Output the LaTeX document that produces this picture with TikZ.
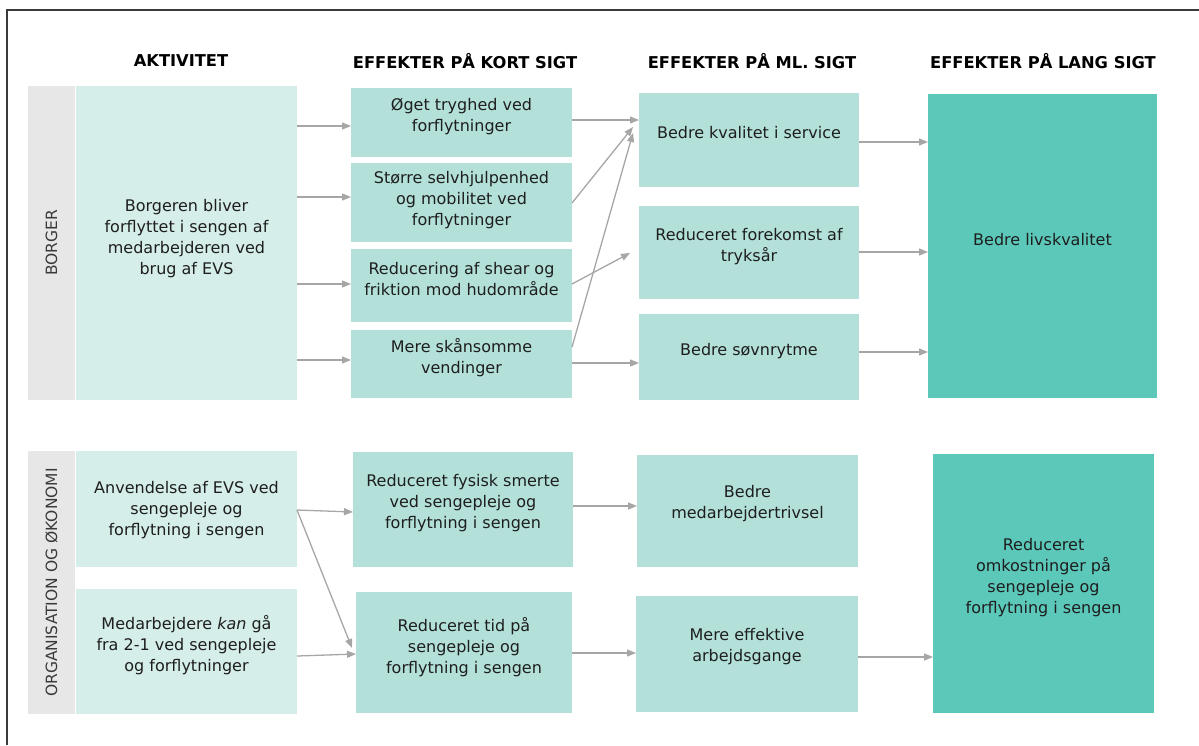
\documentclass[tikz,border=0pt]{standalone}
\usepackage{fontspec}
\setmainfont{DejaVu Sans}
\usetikzlibrary{arrows.meta,calc}
\definecolor{cLight}{HTML}{D5EEE9}
\definecolor{cMid}{HTML}{B3E1DA}
\definecolor{cDark}{HTML}{5CC8BA}
\definecolor{cStrip}{HTML}{E7E7E7}
\definecolor{cArrow}{HTML}{A6A6A6}
\definecolor{cText}{HTML}{1E1E1E}
\definecolor{cFrame}{HTML}{3A3A3A}
\begin{document}
\begin{tikzpicture}[x=1pt,y=-1pt,
 bx/.style={inner sep=0pt, outer sep=0pt, draw=none},
 light/.style={bx, fill=cLight},
 mid/.style={bx, fill=cMid},
 dark/.style={bx, fill=cDark},
 strip/.style={bx, fill=cStrip},
 txt/.style={align=center, text=cText, font=\fontsize{16}{21}\selectfont, inner sep=0pt},
 hdr/.style={font=\fontsize{16.3}{20}\selectfont\bfseries, text=black, inner sep=0pt},
 side/.style={rotate=90, font=\fontsize{15.5}{19}\selectfont, text=cFrame, inner sep=0pt},
 arr/.style={draw=cArrow, line width=1.3pt, -{Triangle[length=9pt,width=7pt]}},
]
\useasboundingbox (0,0) rectangle (1199,745);
% frame
\draw[cFrame, line width=1.3pt] (7,745) -- (7,10) -- (1199,10);

% headers
\node[hdr] (h1) at (181,61) {AKTIVITET};
\node[hdr] (h2) at (465,61) {EFFEKTER PÅ KORT SIGT};
\node[hdr] (h3) at (752,61) {EFFEKTER PÅ ML. SIGT};
\node[hdr] (h4) at (1043,61) {EFFEKTER PÅ LANG SIGT};

% ---------- BORGER ----------
\node[strip, minimum width=47pt, minimum height=314pt] (bstrip) at (51.5,243) {};
\node[side] (bstrip-t) at (bstrip.center) {BORGER};
\node[light, minimum width=221pt, minimum height=314pt] (akt) at (186.5,243) {};
\node[txt] (akt-t) at ($(akt.center)+(0,-4.5)$) {Borgeren bliver\\forflyttet i sengen af\\medarbejderen ved\\brug af EVS};

\node[mid, minimum width=221pt, minimum height=69pt] (s1) at (461.5,122.5) {};
\node[txt] (s1-t) at ($(s1.center)+(0,-6)$) {Øget tryghed ved\\forflytninger};
\node[mid, minimum width=221pt, minimum height=79pt] (s2) at (461.5,202.5) {};
\node[txt] (s2-t) at ($(s2.center)+(0,-2)$) {Større selvhjulpenhed\\og mobilitet ved\\forflytninger};
\node[mid, minimum width=221pt, minimum height=73pt] (s3) at (461.5,285.5) {};
\node[txt] (s3-t) at ($(s3.center)+(0,-6.5)$) {Reducering af shear og\\friktion mod hudområde};
\node[mid, minimum width=221pt, minimum height=68pt] (s4) at (461.5,364) {};
\node[txt] (s4-t) at ($(s4.center)+(0,-6)$) {Mere skånsomme\\vendinger};

\node[mid, minimum width=220pt, minimum height=94pt] (m1) at (749,140) {};
\node[txt] (m1-t) at ($(m1.center)+(0,-7)$) {Bedre kvalitet i service};
\node[mid, minimum width=220pt, minimum height=93pt] (m2) at (749,252.5) {};
\node[txt] (m2-t) at ($(m2.center)+(0,-6)$) {Reduceret forekomst af\\tryksår};
\node[mid, minimum width=220pt, minimum height=86pt] (m3) at (749,357) {};
\node[txt] (m3-t) at ($(m3.center)+(0,-6)$) {Bedre søvnrytme};

\node[dark, minimum width=229pt, minimum height=304pt] (L1) at (1042.5,246) {};
\node[txt] (L1-t) at ($(L1.center)+(0,-6)$) {Bedre livskvalitet};

% arrows BORGER
\draw[arr] (akt.east |- 0,126) -- (s1.west |- 0,126);
\draw[arr] (akt.east |- 0,197) -- (s2.west |- 0,197);
\draw[arr] (akt.east |- 0,284) -- (s3.west |- 0,284);
\draw[arr] (akt.east |- 0,360) -- (s4.west |- 0,360);
\draw[arr] (s1.east |- 0,120) -- (m1.west |- 0,120);
\draw[arr] (s2.east |- 0,203) -- ($(m1.west |- 0,127)+(-6,0)$);
\draw[arr] (s3.east |- 0,284) -- ($(m2.west |- 0,253)+(-9,0)$);
\draw[arr] (s4.east |- 0,347) -- ($(m1.west |- 0,133)+(-6,0)$);
\draw[arr] (s4.east |- 0,363) -- (m3.west |- 0,363);
\draw[arr] (m1.east |- 0,142) -- (L1.west |- 0,142);
\draw[arr] (m2.east |- 0,252) -- (L1.west |- 0,252);
\draw[arr] (m3.east |- 0,352) -- (L1.west |- 0,352);

% ---------- ORGANISATION ----------
\node[strip, minimum width=47pt, minimum height=263pt] (ostrip) at (51.5,582.5) {};
\node[side] (ostrip-t) at (ostrip.center) {ORGANISATION OG ØKONOMI};
\node[light, minimum width=221pt, minimum height=116pt] (a1) at (186.5,509) {};
\node[txt] (a1-t) at ($(a1.center)+(0,1)$) {Anvendelse af EVS ved\\sengepleje og\\forflytning i sengen};
\node[light, minimum width=221pt, minimum height=125pt] (a2) at (186.5,651.5) {};
\node[txt] (a2-t) at ($(a2.center)+(0,-6.5)$) {Medarbejdere \textit{kan} gå\\fra 2-1 ved sengepleje\\og forflytninger};

\node[mid, minimum width=220pt, minimum height=115pt] (t1) at (463,509.5) {};
\node[txt] (t1-t) at ($(t1.center)+(0,-6.5)$) {Reduceret fysisk smerte\\ved sengepleje og\\forflytning i sengen};
\node[mid, minimum width=216pt, minimum height=121pt] (t2) at (464,652.5) {};
\node[txt] (t2-t) at ($(t2.center)+(0,-5.5)$) {Reduceret tid på\\sengepleje og\\forflytning i sengen};

\node[mid, minimum width=221pt, minimum height=112pt] (n1) at (747.5,511) {};
\node[txt] (n1-t) at ($(n1.center)+(0,-7)$) {Bedre\\medarbejdertrivsel};
\node[mid, minimum width=222pt, minimum height=116pt] (n2) at (747,654) {};
\node[txt] (n2-t) at ($(n2.center)+(0,-7)$) {Mere effektive\\arbejdsgange};

\node[dark, minimum width=221pt, minimum height=259pt] (L2) at (1043.5,583.5) {};
\node[txt] (L2-t) at ($(L2.center)+(0,-5.5)$) {Reduceret\\omkostninger på\\sengepleje og\\forflytning i sengen};

% arrows ORGANISATION
\coordinate (a1out) at (a1.east |- 0,510);
\draw[arr] (a1out) -- (t1.west |- 0,512);
\draw[arr] (a1out) -- ($(t2.west |- 0,648)+(-4,0)$);
\draw[arr] (a2.east |- 0,656) -- (t2.west |- 0,654);
\draw[arr] (t1.east |- 0,506) -- (n1.west |- 0,506);
\draw[arr] (t2.east |- 0,653) -- (n2.west |- 0,653);
\draw[arr] (n2.east |- 0,657) -- (L2.west |- 0,657);
\end{tikzpicture}
\end{document}
